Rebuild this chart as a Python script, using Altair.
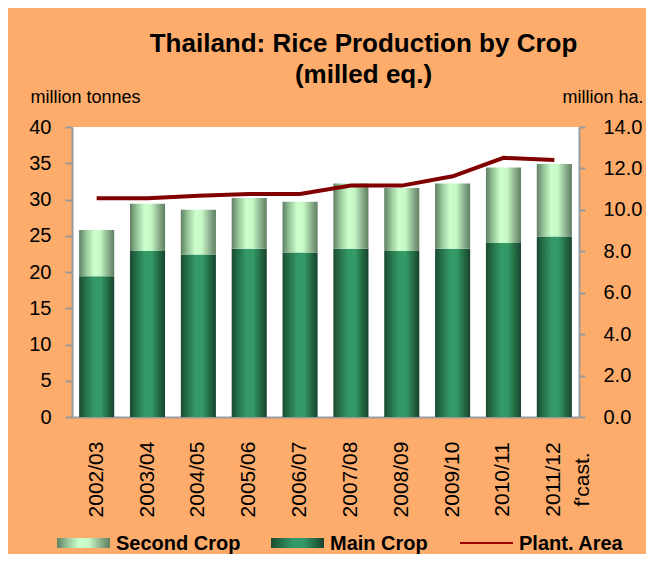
import altair as alt
import pandas as pd

years = ["2002/03", "2003/04", "2004/05", "2005/06", "2006/07",
         "2007/08", "2008/09", "2009/10", "2010/11", "2011/12"]
main_crop = [19.4, 22.9, 22.4, 23.2, 22.7, 23.2, 22.9, 23.2, 24.0, 24.9]
total_crop = [25.8, 29.4, 28.6, 30.2, 29.7, 32.2, 31.6, 32.2, 34.4, 34.9]
plant_area = [10.56, 10.56, 10.68, 10.77, 10.77, 11.17, 11.17, 11.62, 12.51, 12.41]
legend_labels = ["Second Crop", "Main Crop", "Plant. Area"]

df = pd.DataFrame({"year": years, "main": main_crop, "total": total_crop, "area": plant_area})
leg = pd.DataFrame({"label": legend_labels})

FONT = "Liberation Sans"
ORANGE = "#FDAC6B"
GREY = "#9a9a9a"

main_grad = alt.LinearGradient(
    gradient="linear", x1=0, x2=1, y1=0, y2=0,
    stops=[alt.GradientStop(offset=0, color="#1a4a31"),
           alt.GradientStop(offset=0.2, color="#27734c"),
           alt.GradientStop(offset=0.42, color="#339966"),
           alt.GradientStop(offset=0.62, color="#339966"),
           alt.GradientStop(offset=0.85, color="#22643f"),
           alt.GradientStop(offset=1, color="#174330")])
second_grad = alt.LinearGradient(
    gradient="linear", x1=0, x2=1, y1=0, y2=0,
    stops=[alt.GradientStop(offset=0, color="#5f7f62"),
           alt.GradientStop(offset=0.2, color="#98c79b"),
           alt.GradientStop(offset=0.42, color="#ccffcc"),
           alt.GradientStop(offset=0.6, color="#c6f8c6"),
           alt.GradientStop(offset=0.85, color="#84a886"),
           alt.GradientStop(offset=1, color="#5f7f62")])

xenc = alt.X("year:N", sort=years,
             scale=alt.Scale(paddingInner=0.31, paddingOuter=0.14),
             axis=alt.Axis(title=None, labelAngle=-90, labelAlign="center",
                           labelBaseline="middle", labelFont=FONT, labelFontSize=21,
                           labelColor="black", labelPadding=62, ticks=False,
                           domainColor=GREY, domainWidth=2,
                           labelLineHeight=29,
                           labelExpr="datum.value == '2011/12' ? ['2011/12', \"f'cast.\"] : datum.value"))

yleft = alt.Scale(domain=[0, 40])
yaxis_left = alt.Axis(title="million tonnes", titleAngle=0, titleAlign="left",
                      titleBaseline="middle", titleX=-42, titleY=-30,
                      titleFont=FONT, titleFontSize=18, titleFontWeight="normal",
                      titleColor="black",
                      values=[0, 5, 10, 15, 20, 25, 30, 35, 40], grid=False,
                      labelFont=FONT, labelFontSize=20, labelColor="black",
                      labelPadding=14, tickSize=7, tickWidth=2, tickColor=GREY,
                      domainColor=GREY, domainWidth=2)

bars_main = alt.Chart(df).mark_bar(fill=main_grad).encode(
    x=xenc,
    y=alt.Y("main:Q", scale=yleft, axis=yaxis_left),
)
bars_second = alt.Chart(df).mark_bar(fill=second_grad).encode(
    x=xenc,
    y=alt.Y("main:Q", scale=yleft, axis=yaxis_left),
    y2="total:Q",
)
left = alt.layer(bars_main, bars_second)

line = alt.Chart(df).mark_line(color="#800000", strokeWidth=4).encode(
    x=xenc,
    y=alt.Y("area:Q", scale=alt.Scale(domain=[0, 14]),
            axis=alt.Axis(title="million ha.", orient="right", titleAngle=0,
                          titleAlign="right", titleBaseline="middle",
                          titleX=64, titleY=-30, titleFont=FONT, titleFontSize=18,
                          titleFontWeight="normal", titleColor="black",
                          values=[0, 2, 4, 6, 8, 10, 12, 14], format=".1f",
                          grid=False, labelFont=FONT, labelFontSize=20,
                          labelColor="black", labelPadding=18, tickSize=6,
                          tickWidth=2, tickColor=GREY, domainColor=GREY,
                          domainWidth=2)),
)


def leg_item(label, sx, fill=None, is_line=False):
    d = alt.Chart(leg).transform_filter(alt.datum.label == label)
    if is_line:
        sym = d.mark_rule(color="#a00000", strokeWidth=2).encode(
            x=alt.value(sx), x2=alt.value(sx + 53), y=alt.value(416))
    else:
        sym = d.mark_rect(fill=fill).encode(
            x=alt.value(sx), x2=alt.value(sx + 53),
            y=alt.value(411), y2=alt.value(421))
    txt = d.mark_text(align="left", baseline="middle", font=FONT, fontSize=20,
                      fontWeight="bold", color="black").encode(
        x=alt.value(sx + 59), y=alt.value(417), text="label:N")
    return [sym, txt]


legend_layers = (leg_item("Second Crop", -15, fill=second_grad)
                 + leg_item("Main Crop", 199, fill=main_grad)
                 + leg_item("Plant. Area", 388, is_line=True))

chart = alt.layer(left, line, *legend_layers).resolve_scale(y="independent").properties(
    width=507, height=290,
    background=ORANGE,
    autosize=alt.AutoSizeParams(type="none"),
    padding={"left": 64, "top": 119, "right": 67, "bottom": 137},
    title=alt.TitleParams(
        text=["Thailand: Rice Production by Crop", "(milled eq.)"],
        font=FONT, fontSize=26, fontWeight="bold", color="black",
        anchor="middle", dx=38, offset=0, lineHeight=31),
).configure_view(fill="white", stroke=None)

chart.save("out.html", embed_options={"renderer": "svg", "actions": False})
